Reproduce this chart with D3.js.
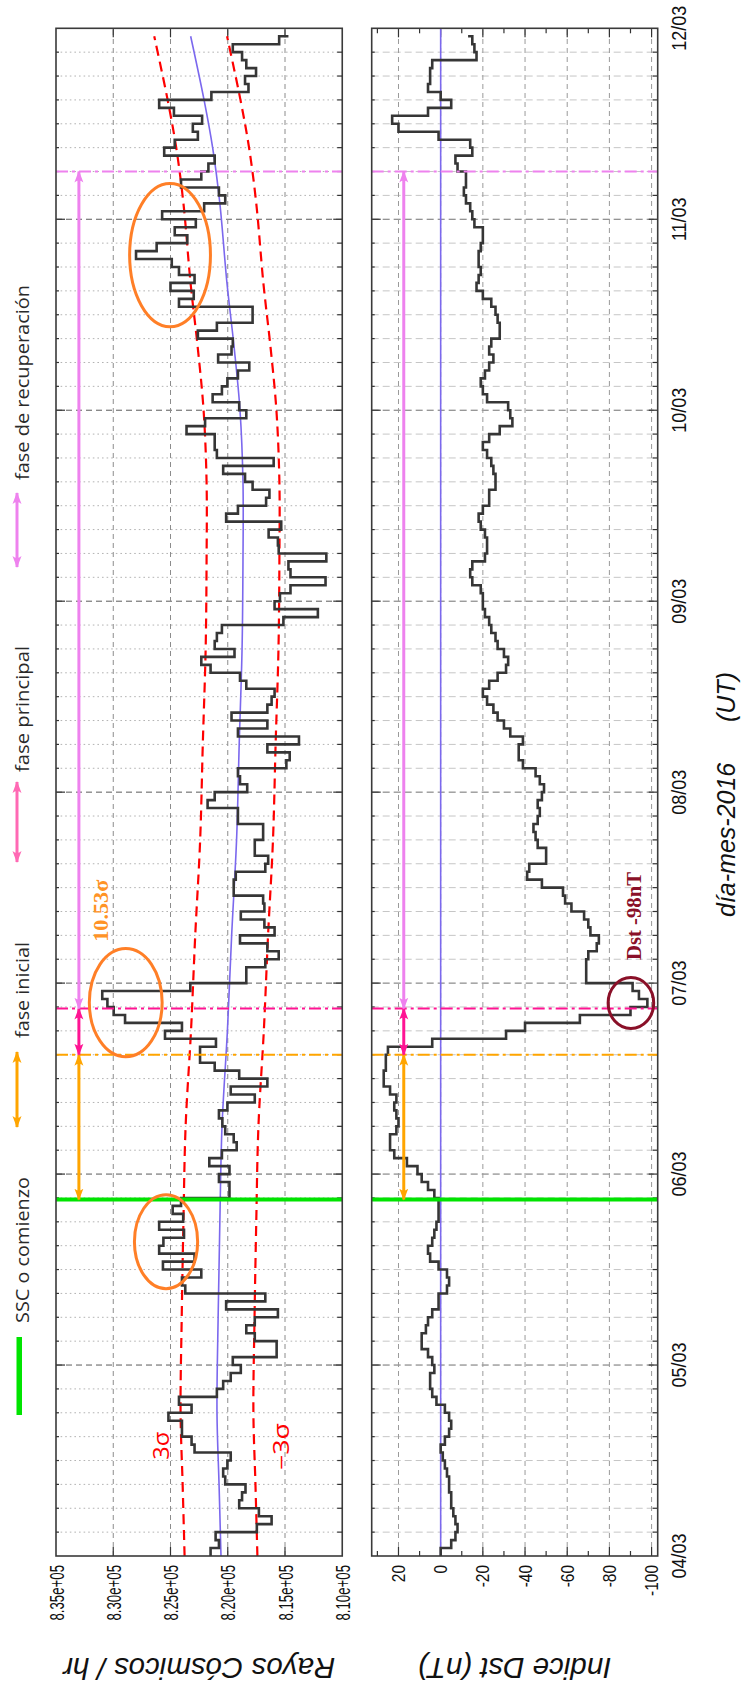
<!DOCTYPE html>
<html lang="es">
<head>
<meta charset="utf-8">
<title>Rayos cósmicos e índice Dst, marzo 2016</title>
<script src="https://cdn.jsdelivr.net/npm/d3@7/dist/d3.min.js"></script>
<style>
  html, body { margin: 0; padding: 0; background: #fff; }
  svg { display: block; }
</style>
</head>
<body>
<svg id="chart" width="741" height="1685"></svg>
<script>
// ---------- data ----------
// hourly values, hour 0 = 04/03/2016 00:00 UT
const cosmicRate = [
  821500, 820770, 821060, 817460, 816170, 817280, 819000, 818750, 818450, 820220,
  820400, 820030, 819740, 822900, 823160, 824000, 824000, 825180, 823160, 824260,
  820950, 820400, 819740, 818860, 819560, 815730, 815730, 817640, 818380, 817640,
  815620, 820140, 816720, 823710, 824000, 822310, 825660, 822900, 825990, 825620,
  823820, 825990, 823890, 824810, 824080, 819850, 819850, 820770, 819850, 821610,
  820510, 819220, 819480, 820220, 820470, 820770, 820030, 817640, 819740, 816540,
  819000, 821140, 822420, 822420, 821030, 825480, 824000, 828970, 829960, 830510,
  830960, 823270, 818380, 818380, 816720, 815550, 816540, 818930, 815910, 816800,
  818860, 816800, 816910, 819480, 819480, 819300, 816720, 816470, 817640, 817640,
  816910, 816910, 819110, 819110, 821760, 821140, 818300, 818930, 819110, 814880,
  814590, 816540, 813780, 819110, 816540, 819670, 816540, 816170, 815910, 818380,
  818930, 821500, 822310, 819410, 821140, 820950, 820510, 815140, 812130, 815910,
  815440, 814520, 811460, 814520, 814700, 811390, 815550, 815620, 816430, 815330,
  820140, 819110, 816650, 816360, 817830, 818490, 820400, 815990, 820950, 821140,
  821140, 823600, 821980, 818380, 819000, 821320, 820510, 820030, 819110, 818120,
  820840, 819670, 819560, 822610, 820950, 817830, 817830, 824260, 822970, 825000,
  822900, 824260, 824890, 828010, 826210, 823530, 824630, 822790, 825730, 822060,
  820220, 820770, 824080, 822310, 821690, 821140, 825550, 824630, 822610, 823050,
  822240, 824700, 825990, 821430, 818190, 818490, 817530, 818380, 818750, 819560,
  815510, 814700
];
const dstIndex = [
  0, -5, -7, -8, -7, -6, -5, -5, -4, -4,
  -3, -2, -1, 0, -2, -4, -5, -4, -2, 2,
  4, 5, 5, 3, 4, 6, 9, 9, 7, 6,
  4, 1, 1, -3, -4, -3, 1, 5, 6, 4,
  3, 2, 1, 1, 1, 3, 6, 9, 11, 16,
  22, 24, 24, 21, 20, 21, 22, 21, 24, 27,
  27, 26, 26, 25, 4, -31, -40, -66, -90, -98,
  -94, -91, -69, -69, -69, -70, -74, -75, -71, -70,
  -68, -62, -59, -58, -48, -41, -42, -50, -50, -46,
  -45, -44, -46, -47, -46, -48, -49, -47, -45, -39,
  -37, -37, -39, -33, -30, -27, -25, -22, -20, -23,
  -27, -31, -32, -30, -27, -26, -24, -23, -21, -20,
  -20, -19, -15, -14, -15, -21, -22, -22, -21, -19,
  -18, -20, -23, -23, -26, -26, -25, -24, -22, -20,
  -23, -28, -34, -33, -32, -22, -20, -19, -21, -23,
  -25, -23, -24, -28, -28, -27, -26, -24, -20, -17,
  -18, -19, -18, -18, -19, -20, -20, -16, -15, -14,
  -12, -11, -12, -12, -8, -7, -15, -14, 1, 20,
  23, 6, -5, 0, 6, 5, 5, 4, -17, -16,
  -15, -13
];
// smoothed mean of the cosmic-ray rate and its standard deviation
const meanHours = [0, 9, 18, 30, 42, 54, 66, 78, 90, 102, 114, 125, 135, 144, 152, 160, 170, 177, 183, 191];
const meanRate  = [820590, 820760, 820940, 820840, 820690, 820500, 820030, 819660, 819230, 819000,
                   818750, 818670, 818670, 818930, 819450, 820070, 820690, 821320, 822070, 823240];
const sigmaRate = 1060;

const dayLabels = ["04/03", "05/03", "06/03", "07/03", "08/03", "09/03", "10/03", "11/03", "12/03"];
const rateTicks = [835000, 830000, 825000, 820000, 815000, 810000];
const rateTickLabels = ["8.35e+05", "8.30e+05", "8.25e+05", "8.20e+05", "8.15e+05", "8.10e+05"];
const dstTicks = [20, 0, -20, -40, -60, -80, -100];

// storm phases: SSC, end of initial phase, Dst minimum, end of recovery (hours)
const phaseLabels = ["SSC o comienzo", "fase inicial", "fase principal", "fase de recuperación"];
const phaseHours = [44.8, 63, 68.8, 174];

// ---------- layout ----------
const W = 741, H = 1685;
const C = {
  green: "#00e400", orange: "#ffa500", pink: "#ff1493", pinkLegend: "#ff69b4",
  violet: "#ee82ee", trend: "#7b68ee", red: "#ff0000", line: "#363636",
  ring: "#ff7f27", maroon: "#8a1028", text: "#2a2a2a"
};

const svg = d3.select("#chart");
svg.append("rect").attr("width", W).attr("height", H).attr("fill", "#fff");

// markers for the double-headed phase arrows
const defs = svg.append("defs");
function headId(color) { return "head-" + color.replace("#", ""); }
[C.orange, C.pink, C.violet, C.pinkLegend].forEach(color => {
  defs.append("marker")
    .attr("id", headId(color))
    .attr("viewBox", "0 0 12 10")
    .attr("refX", 11).attr("refY", 5)
    .attr("markerWidth", 12).attr("markerHeight", 10)
    .attr("markerUnits", "userSpaceOnUse")
    .attr("orient", "auto-start-reverse")
    .append("path")
    .attr("d", "M0,0.5 Q4,5 0,9.5 L12,5 Z")
    .attr("fill", color);
});

// the whole figure is drawn in a landscape frame (time along u, values along w)
// and turned a quarter turn so that time runs upwards
const g = svg.append("g").attr("transform", `translate(0,${H}) rotate(-90)`);

const x = d3.scaleLinear().domain([0, 192]).range([129, 1656.7]);
const yC = d3.scaleLinear().domain([835000, 810000]).range([56, 342.25]);
const yD = d3.scaleLinear().domain([32.7, -102.9]).range([371.7, 657.7]);

const panels = [
  { key: "rate", y: yC, top: 56, bottom: 342.25, grid: [830000, 825000, 820000, 815000],
    minor: [], minorTime: { color: "#b3b3b3", dash: "1.6,3" }, dayStyle: { color: "#5a5a5a", dash: "6,4" },
    valueStyle: { color: "#8c8c8c", dash: "5,4" } },
  { key: "dst", y: yD, top: 371.7, bottom: 657.7, grid: [20, 0, -20, -40, -60, -80, -100],
    minor: [30, 10, -10, -30, -50, -70, -90], minorTime: { color: "#c6c6c6", dash: "7,4" },
    dayStyle: { color: "#707070", dash: "7,4" }, valueStyle: { color: "#9a9a9a", dash: "5,4" } }
];

const gridHours = d3.range(3, 192, 3);
const [t0, t1] = x.domain();

panels.forEach(p => {
  const pg = g.append("g");
  // time grid
  pg.selectAll(".tg").data(gridHours).join("line")
    .attr("x1", d => x(d)).attr("x2", d => x(d))
    .attr("y1", p.top).attr("y2", p.bottom)
    .attr("stroke", d => d % 24 === 0 ? p.dayStyle.color : p.minorTime.color)
    .attr("stroke-dasharray", d => d % 24 === 0 ? p.dayStyle.dash : p.minorTime.dash)
    .attr("stroke-width", 1);
  // value grid
  pg.selectAll(".vg").data(p.grid).join("line")
    .attr("x1", x(t0)).attr("x2", x(t1))
    .attr("y1", d => p.y(d)).attr("y2", d => p.y(d))
    .attr("stroke", p.valueStyle.color).attr("stroke-dasharray", p.valueStyle.dash)
    .attr("stroke-width", 1);
  // time ticks on both long edges (inward)
  pg.selectAll(".tt1").data(gridHours).join("line")
    .attr("x1", d => x(d)).attr("x2", d => x(d))
    .attr("y1", p.top).attr("y2", d => p.top + (d % 24 === 0 ? 9 : 3))
    .attr("stroke", "#333").attr("stroke-width", 1.2);
  pg.selectAll(".tt2").data(gridHours).join("line")
    .attr("x1", d => x(d)).attr("x2", d => x(d))
    .attr("y1", p.bottom).attr("y2", d => p.bottom - (d % 24 === 0 ? 9 : 5))
    .attr("stroke", "#333").attr("stroke-width", 1.2);
  // value ticks on both short edges (inward)
  const vt = p.grid.map(v => ({ v, len: 9 })).concat(p.minor.map(v => ({ v, len: 5 })));
  pg.selectAll(".vt1").data(vt).join("line")
    .attr("x1", x(t0)).attr("x2", d => x(t0) + d.len)
    .attr("y1", d => p.y(d.v)).attr("y2", d => p.y(d.v))
    .attr("stroke", "#333").attr("stroke-width", 1.2);
  pg.selectAll(".vt2").data(vt).join("line")
    .attr("x1", x(t1)).attr("x2", d => x(t1) - d.len)
    .attr("y1", d => p.y(d.v)).attr("y2", d => p.y(d.v))
    .attr("stroke", "#333").attr("stroke-width", 1.2);
});

// ---- cosmic-ray panel ----
const meanSeries = meanHours.map((h, i) => ({ t: h, v: meanRate[i] }));
const smooth = d3.line().x(d => x(d.t)).y(d => yC(d.v)).curve(d3.curveCatmullRom);
[3, -3].forEach(k => {
  g.append("path")
    .datum(meanSeries.map(d => ({ t: d.t, v: d.v + k * sigmaRate })))
    .attr("d", smooth).attr("fill", "none")
    .attr("stroke", C.red).attr("stroke-width", 2.2).attr("stroke-dasharray", "10,6");
});
g.append("path").datum(meanSeries).attr("d", smooth)
  .attr("fill", "none").attr("stroke", C.trend).attr("stroke-width", 1.6);

const step = d3.line().curve(d3.curveStepAfter);
g.append("path")
  .datum(cosmicRate.map((v, i) => [x(i), yC(v)]))
  .attr("d", step).attr("fill", "none")
  .attr("stroke", C.line).attr("stroke-width", 2.6).attr("stroke-linejoin", "miter");

// ---- Dst panel ----
g.append("line")
  .attr("x1", x(t0)).attr("x2", x(t1)).attr("y1", yD(0)).attr("y2", yD(0))
  .attr("stroke", C.trend).attr("stroke-width", 1.6);
g.append("path")
  .datum(dstIndex.map((v, i) => [x(i), yD(v)]))
  .attr("d", step).attr("fill", "none")
  .attr("stroke", C.line).attr("stroke-width", 2.6);

// ---- phase boundaries and arrows ----
const boundaryStyle = [
  { color: C.green, width: 4, dash: null },
  { color: C.orange, width: 2, dash: "12,4,3,4" },
  { color: C.pink, width: 2, dash: "12,4,3,4" },
  { color: C.violet, width: 2, dash: "12,4,3,4" }
];
panels.forEach(p => {
  phaseHours.forEach((h, i) => {
    g.append("line")
      .attr("x1", x(h)).attr("x2", x(h)).attr("y1", p.top).attr("y2", p.bottom)
      .attr("stroke", boundaryStyle[i].color).attr("stroke-width", boundaryStyle[i].width)
      .attr("stroke-dasharray", boundaryStyle[i].dash);
  });
});
const arrowColors = [C.orange, C.pink, C.violet];
const arrowLevels = [yC(833000), yD(17.5)];
arrowLevels.forEach(w => {
  arrowColors.forEach((color, i) => {
    g.append("line")
      .attr("x1", x(phaseHours[i])).attr("x2", x(phaseHours[i + 1]))
      .attr("y1", w).attr("y2", w)
      .attr("stroke", color).attr("stroke-width", 3)
      .attr("marker-start", `url(#${headId(color)})`)
      .attr("marker-end", `url(#${headId(color)})`);
  });
});

// ---- highlighted intervals ----
const rings = [
  { t: 39.5, v: 825390, rt: 5.9, rv: 2760, y: yC, color: C.ring },
  { t: 69.55, v: 828910, rt: 6.8, rv: 3180, y: yC, color: C.ring },
  { t: 163.5, v: 825040, rt: 9.0, rv: 3530, y: yC, color: C.ring },
  { t: 69.5, v: -90.2, rt: 3.2, rv: 10.8, y: yD, color: C.maroon }
];
rings.forEach(r => {
  g.append("ellipse")
    .attr("cx", x(r.t)).attr("cy", r.y(r.v))
    .attr("rx", x(r.t + r.rt) - x(r.t))
    .attr("ry", Math.abs(r.y(r.v + r.rv) - r.y(r.v)))
    .attr("fill", "none").attr("stroke", r.color).attr("stroke-width", 3);
});

// ---- panel frames ----
panels.forEach(p => {
  g.append("rect")
    .attr("x", x(t0)).attr("y", p.top)
    .attr("width", x(t1) - x(t0)).attr("height", p.bottom - p.top)
    .attr("fill", "none").attr("stroke", "#3a3a3a").attr("stroke-width", 1.6);
});

// ---- notes ----
const notes = [
  { text: "3σ", t: 12.1, v: 825130, y: yC, len: 28, size: 21, color: C.red, family: "'Open Sans', sans-serif", weight: 400 },
  { text: "−3σ", t: 10.8, v: 814650, y: yC, len: 47, size: 21, color: C.red, family: "'Open Sans', sans-serif", weight: 400 },
  { text: "10.53σ", t: 77.2, v: 830460, y: yC, len: 62, size: 22, color: "#ff9326", family: "'Liberation Serif', serif", weight: 700 },
  { text: "Dst -98nT", t: 74.9, v: -94.9, y: yD, len: 88, size: 21, color: C.maroon, family: "'Liberation Serif', serif", weight: 700 }
];
notes.forEach(n => {
  g.append("text")
    .attr("x", x(n.t)).attr("y", n.y(n.v))
    .attr("textLength", n.len).attr("lengthAdjust", "spacingAndGlyphs")
    .attr("font-family", n.family).attr("font-weight", n.weight)
    .attr("font-size", n.size).attr("fill", n.color)
    .text(n.text);
});

// ---- axes labels ----
const sans = "'Liberation Sans', Arial, sans-serif";
rateTicks.forEach((v, i) => {
  g.append("text")
    .attr("transform", `translate(120,${yC(v) + 7.5}) scale(0.63,1)`)
    .attr("text-anchor", "end").attr("font-family", sans).attr("font-size", 21)
    .attr("fill", "#111").text(rateTickLabels[i]);
});
dstTicks.forEach(v => {
  g.append("text")
    .attr("transform", `translate(120,${yD(v) + 6.5}) scale(0.86,1)`)
    .attr("text-anchor", "end").attr("font-family", sans).attr("font-size", 18)
    .attr("fill", "#111").text(v);
});
dayLabels.forEach((lab, i) => {
  g.append("text")
    .attr("transform", `translate(${x(i * 24)},686) scale(0.9,1)`)
    .attr("text-anchor", "middle").attr("font-family", sans).attr("font-size", 20)
    .attr("fill", "#111").text(lab);
});
[["Rayos Cósmicos / hr", (56 + 342.25) / 2], ["Indice Dst (nT)", (371.7 + 657.7) / 2]].forEach(([lab, w]) => {
  g.append("text")
    .attr("transform", `translate(27,${w}) rotate(-90)`)
    .attr("text-anchor", "middle").attr("font-family", sans)
    .attr("font-style", "italic").attr("font-size", 29.5).attr("fill", "#111")
    .text(lab);
});
g.append("text").attr("x", 768).attr("y", 735)
  .attr("font-family", sans).attr("font-style", "italic").attr("font-size", 25)
  .attr("fill", "#111").text("día-mes-2016");
g.append("text").attr("x", 963).attr("y", 735)
  .attr("font-family", sans).attr("font-style", "italic").attr("font-size", 25)
  .attr("fill", "#111").text("(UT)");

// ---- legend ----
const legendItems = [
  { color: C.green, kind: "bar", u0: 270, u1: 348, tu: 362, tlen: 146 },
  { color: C.orange, kind: "arrow", u0: 558, u1: 633, tu: 647, tlen: 96 },
  { color: C.pinkLegend, kind: "arrow", u0: 823, u1: 903, tu: 913, tlen: 126 },
  { color: C.violet, kind: "arrow", u0: 1118, u1: 1192, tu: 1205, tlen: 195 }
];
legendItems.forEach((it, i) => {
  if (it.kind === "bar") {
    g.append("rect").attr("x", it.u0).attr("y", 16.5)
      .attr("width", it.u1 - it.u0).attr("height", 5.5).attr("fill", it.color);
  } else {
    g.append("line").attr("x1", it.u0).attr("x2", it.u1).attr("y1", 17).attr("y2", 17)
      .attr("stroke", it.color).attr("stroke-width", 3)
      .attr("marker-start", `url(#${headId(it.color)})`)
      .attr("marker-end", `url(#${headId(it.color)})`);
  }
  g.append("text").attr("x", it.tu).attr("y", 29)
    .attr("textLength", it.tlen).attr("lengthAdjust", "spacingAndGlyphs")
    .attr("font-family", "'Open Sans', sans-serif").attr("font-size", 18)
    .attr("fill", C.text).text(phaseLabels[i]);
});
</script>
</body>
</html>
